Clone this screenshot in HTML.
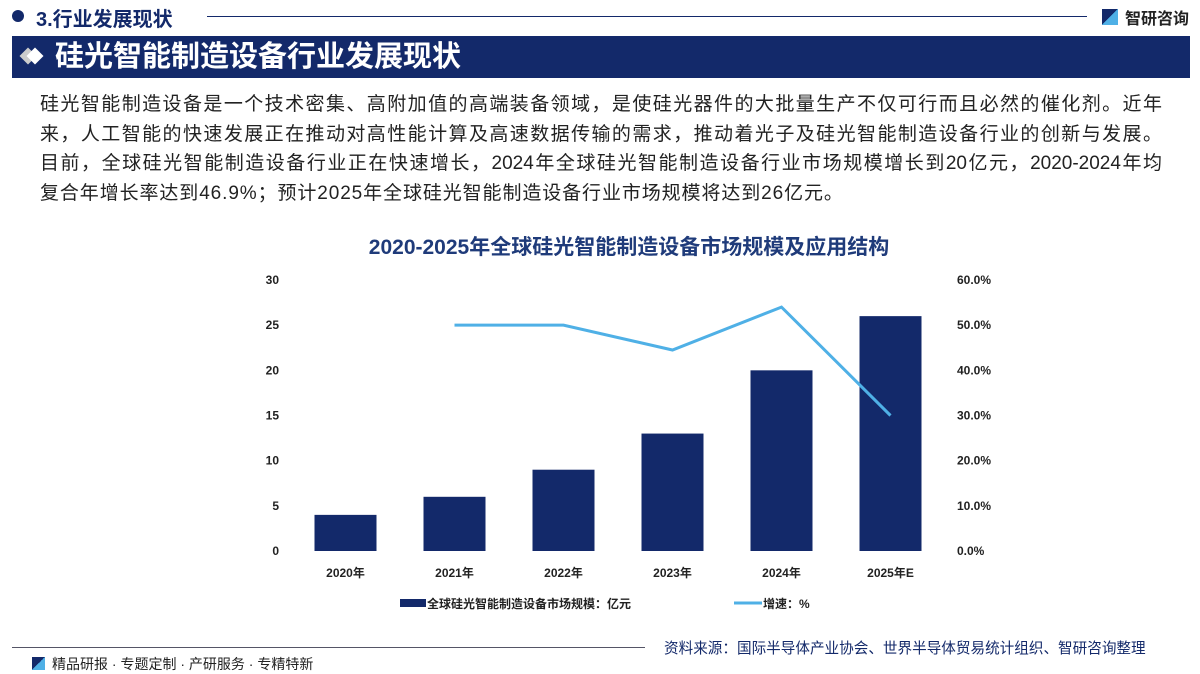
<!DOCTYPE html>
<html><head><meta charset="utf-8"><style>
body{margin:0;width:1200px;height:673px;background:#fff;position:relative;overflow:hidden;font-family:"Liberation Sans","Noto Sans CJK SC",sans-serif;}
.abs{position:absolute;}
.para div{font-size:19px;color:#222;width:1122px;height:29.5px;line-height:29.5px;white-space:nowrap;}
.j{text-align:justify;text-align-last:justify;}
</style></head><body>
<div class="abs" style="left:12px;top:10px;width:12px;height:12px;border-radius:50%;background:#13296a"></div>
<div class="abs" style="left:36px;top:3px;font-size:20px;font-weight:bold;color:#13296a">3.行业发展现状</div>
<div class="abs" style="left:207px;top:16px;width:880px;height:1px;background:#13296a"></div>
<div class="abs" style="left:1102px;top:9px;width:16px;height:16px;background:linear-gradient(135deg,#13296a 50%,#4fb0e6 50%)"></div>
<div class="abs" style="left:1125px;top:5px;font-size:16px;font-weight:bold;color:#222">智研咨询</div>
<div class="abs" style="left:12px;top:36px;width:1178px;height:42px;background:#13296a"></div>
<div class="abs" style="left:22px;top:50px;width:12px;height:12px;background:#ccc;transform:rotate(45deg)"></div>
<div class="abs" style="left:29px;top:50px;width:12px;height:12px;background:#fff;transform:rotate(45deg)"></div>
<div class="abs" style="left:55px;top:38px;font-size:29px;font-weight:bold;color:#fff;line-height:38px">硅光智能制造设备行业发展现状</div>
<div class="abs para" style="left:40px;top:90px">
<div class="j">硅光智能制造设备是一个技术密集、高附加值的高端装备领域，是使硅光器件的大批量生产不仅可行而且必然的催化剂。近年</div>
<div class="j">来，人工智能的快速发展正在推动对高性能计算及高速数据传输的需求，推动着光子及硅光智能制造设备行业的创新与发展。</div>
<div class="j">目前，全球硅光智能制造设备行业正在快速增长，2024年全球硅光智能制造设备行业市场规模增长到20亿元，2020-2024年均</div>
<div style="letter-spacing:0.9px">复合年增长率达到46.9%；预计2025年全球硅光智能制造设备行业市场规模将达到26亿元。</div>
</div>
<div class="abs" style="left:0;width:1258px;top:231px;text-align:center;font-size:21px;font-weight:bold;color:#1f3b7a">2020-2025年全球硅光智能制造设备市场规模及应用结构</div>
<svg class="abs" style="left:0;top:0" width="1200" height="673" id="chart"></svg>
<div class="abs" style="left:12px;top:647px;width:633px;height:1px;background:#556"></div>
<div class="abs" style="left:664px;top:637px;font-size:14.6px;color:#13296a">资料来源：国际半导体产业协会、世界半导体贸易统计组织、智研咨询整理</div>
<div class="abs" style="left:32px;top:657px;width:13px;height:13px;background:linear-gradient(135deg,#13296a 50%,#4fb0e6 50%)"></div>
<div class="abs" style="left:52px;top:654px;font-size:14px;color:#222">精品研报 · 专题定制 · 产研服务 · 专精特新</div>
<script>
const categories=["2020年","2021年","2022年","2023年","2024年","2025年E"];
const marketSize=[4,6,9,13,20,26];
const growth=[null,50,50,44.5,54,30];
const leftTicks=[0,5,10,15,20,25,30];
const rightTicks=[0,10,20,30,40,50,60];
const svg=document.getElementById('chart');
const NS='http://www.w3.org/2000/svg';
const x0=291,bw=109,yTop=280,yBot=551;
const yL=v=>yBot-(v/30)*(yBot-yTop);
const yR=v=>yBot-(v/60)*(yBot-yTop);
const xc=i=>x0+bw*(i+0.5);
function mk(t,a){const e=document.createElementNS(NS,t);for(const k in a)e.setAttribute(k,a[k]);svg.appendChild(e);return e;}
leftTicks.forEach(v=>{const t=mk('text',{x:279,y:yL(v)+4,'text-anchor':'end','font-size':12,'font-weight':'bold',fill:'#222'});t.textContent=v;

});
rightTicks.forEach(v=>{const t=mk('text',{x:957,y:yR(v)+4,'font-size':12,'font-weight':'bold',fill:'#222'});t.textContent=v.toFixed(1)+'%';

});
marketSize.forEach((v,i)=>{const r=mk('rect',{x:xc(i)-31,y:yL(v),width:62,height:yBot-yL(v),fill:'#13296a'});


const t=mk('text',{x:xc(i),y:577,'text-anchor':'middle','font-size':12,'font-weight':'bold',fill:'#222'});t.textContent=categories[i];

});
let d='';growth.forEach((v,i)=>{if(v==null)return;d+=(d?'L':'M')+xc(i)+','+yR(v);});
const p=mk('path',{d:d,fill:'none',stroke:'#4fb0e6','stroke-width':3});


const l1=mk('rect',{x:400,y:599,width:26,height:8,fill:'#13296a'});


const lt1=mk('text',{x:427,y:608,'font-size':12,'font-weight':'bold',fill:'#222'});lt1.textContent='全球硅光智能制造设备市场规模：亿元';


const l2=mk('line',{x1:734,y1:603,x2:762,y2:603,stroke:'#4fb0e6','stroke-width':3});


const lt2=mk('text',{x:763,y:608,'font-size':12,'font-weight':'bold',fill:'#222'});lt2.textContent='增速：%';


</script>
</body></html>
